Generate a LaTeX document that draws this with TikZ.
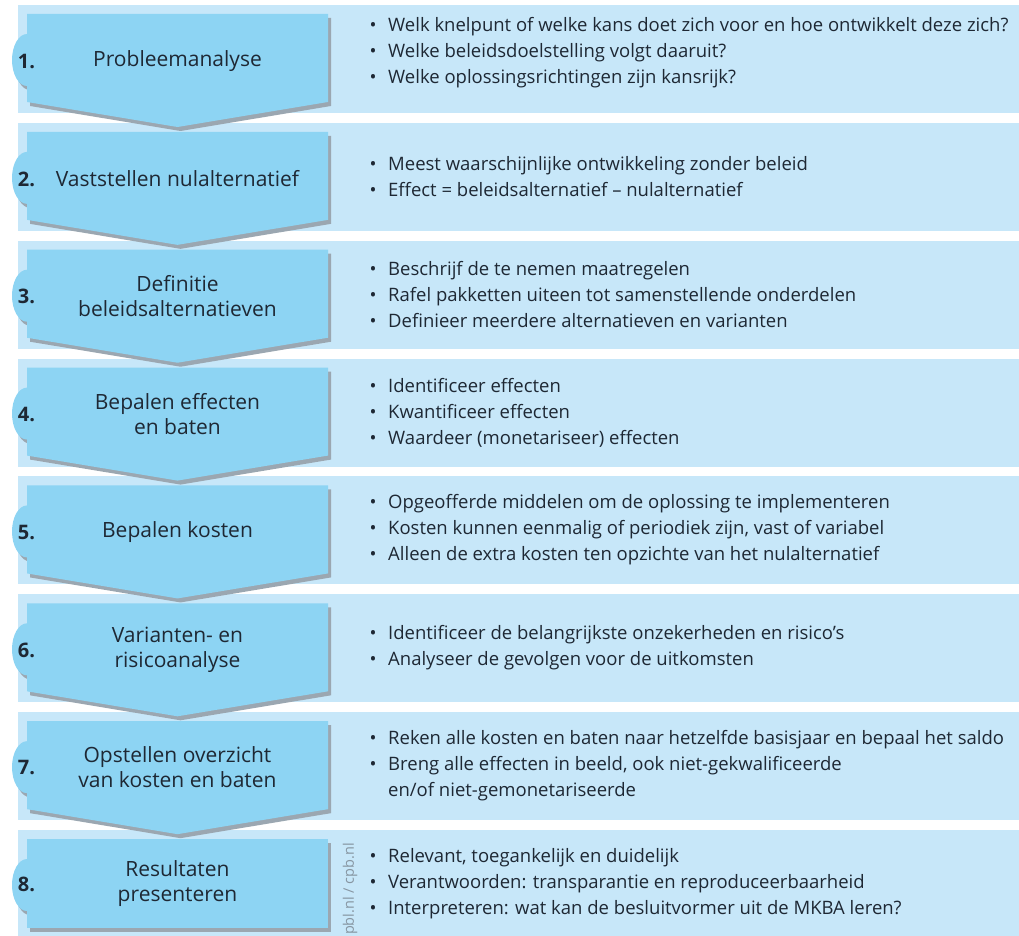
\documentclass[tikz,border=0pt]{standalone}
\usepackage{fontspec}
\setmainfont{Open Sans}

\definecolor{bandblue}{RGB}{199,231,249}
\definecolor{boxblue}{RGB}{141,212,243}
\definecolor{shadowgrey}{RGB}{155,167,177}
\definecolor{inktext}{RGB}{30,40,52}
\definecolor{creditgrey}{RGB}{135,150,162}

\newcommand{\bul}{\makebox[30pt][c]{\textbullet}}
\newcommand{\ind}{\hspace*{30pt}}

\begin{document}
\begin{tikzpicture} [x=1pt,y=-1pt,
			band/.style={fill=bandblue},
			arrowbox/.style={fill=boxblue},
			boxshadow/.style={fill=shadowgrey},
			stepnum/.style={font=\fontsize{20}{24}\selectfont\bfseries,text=inktext,inner sep=0pt},
			steplabel/.style={font=\fontsize{21}{25}\selectfont,text=inktext,align=center,inner sep=0pt},
			stepinfo/.style={font=\fontsize{18.5}{26}\selectfont,text=inktext,align=left,anchor=west,inner sep=0pt},
			credit/.style={font=\fontsize{14.5}{16}\selectfont,text=creditgrey,rotate=90,inner sep=0pt}]

		\useasboundingbox (0,0) rectangle (1019,936);

		\foreach \k in {1,...,8} {
			\pgfmathsetmacro{\t}{5+(\k-1)*117.86}
			\pgfmathsetmacro{\b}{min(\t+108,936)}
			\fill [band] (18,\t) rectangle (1019,\b);
		}

		\pgfmathsetmacro{\t}{5+7*117.86}
		\fill [boxshadow] (30,\t+13) rectangle (331,\t+102);
		\fill [boxshadow] (30,\t+59) ellipse [x radius=15pt, y radius=26pt];
		\fill [arrowbox] (27,\t+9) rectangle (328,\t+98);
		\fill [arrowbox] (27,\t+55) ellipse [x radius=15pt, y radius=26pt];

		\foreach \k in {7,...,1} {
			\pgfmathsetmacro{\t}{5+(\k-1)*117.86}
			\begin{scope}[shift={(3,4)}]
				\fill [boxshadow] (27,\t+9) -- (328,\t+9) -- (328,\t+97) -- (177.5,\t+122) -- (27,\t+97) -- cycle;
				\fill [boxshadow] (27,\t+55) ellipse [x radius=15pt, y radius=26pt];
			\end{scope}
			\fill [arrowbox] (27,\t+9) -- (328,\t+9) -- (328,\t+97) -- (177.5,\t+122) -- (27,\t+97) -- cycle;
			\fill [arrowbox] (27,\t+55) ellipse [x radius=15pt, y radius=26pt];
		}

		\node [stepnum] (num1) at (26.5,61) {1.};
		\node [stepnum] (num2) at (26.5,179) {2.};
		\node [stepnum] (num3) at (26.5,296) {3.};
		\node [stepnum] (num4) at (26.5,414) {4.};
		\node [stepnum] (num5) at (26.5,532) {5.};
		\node [stepnum] (num6) at (26.5,650) {6.};
		\node [stepnum] (num7) at (26.5,767) {7.};
		\node [stepnum] (num8) at (26.5,884) {8.};

		\node [steplabel] (step1) at (177.5,61) {Probleemanalyse};
		\node [steplabel] (step2) at (177.5,179) {Vaststellen nulalternatief};
		\node [steplabel] (step3) at (177.5,296) {Definitie\\beleidsalternatieven};
		\node [steplabel] (step4) at (177.5,414) {Bepalen effecten\\en baten};
		\node [steplabel] (step5) at (177.5,532) {Bepalen kosten};
		\node [steplabel] (step6) at (177.5,650) {Varianten- en\\risicoanalyse};
		\node [steplabel] (step7) at (177.5,767) {Opstellen overzicht\\van kosten en baten};
		\node [steplabel] (step8) at (177.5,884) {Resultaten\\presenteren};

		\node [stepinfo] (info1) at (358,53) {\bul Welk knelpunt of welke kans doet zich voor en hoe ontwikkelt deze zich?\\
			\bul Welke beleidsdoelstelling volgt daaruit?\\
			\bul Welke oplossingsrichtingen zijn kansrijk?};
		\node [stepinfo] (info2) at (358,177) {\bul Meest waarschijnlijke ontwikkeling zonder beleid\\
			\bul Effect = beleidsalternatief -- nulalternatief};
		\node [stepinfo] (info3) at (358,295) {\bul Beschrijf de te nemen maatregelen\\
			\bul Rafel pakketten uiteen tot samenstellende onderdelen\\
			\bul Definieer meerdere alternatieven en varianten};
		\node [stepinfo] (info4) at (358,413) {\bul Identificeer effecten\\
			\bul Kwantificeer effecten\\
			\bul Waardeer (monetariseer) effecten};
		\node [stepinfo] (info5) at (358,530) {\bul Opgeofferde middelen om de oplossing te implementeren\\
			\bul Kosten kunnen eenmalig of periodiek zijn, vast of variabel\\
			\bul Alleen de extra kosten ten opzichte van het nulalternatief};
		\node [stepinfo] (info6) at (358,648) {\bul Identificeer de belangrijkste onzekerheden en risico's\\
			\bul Analyseer de gevolgen voor de uitkomsten};
		\node [stepinfo] (info7) at (358,766) {\bul Reken alle kosten en baten naar hetzelfde basisjaar en bepaal het saldo\\
			\bul Breng alle effecten in beeld, ook niet-gekwalificeerde\\
			\ind en/of niet-gemonetariseerde};
		\node [stepinfo] (info8) at (358,884) {\bul Relevant, toegankelijk en duidelijk\\
			\bul Verantwoorden: transparantie en reproduceerbaarheid\\
			\bul Interpreteren: wat kan de besluitvormer uit de MKBA leren?};

		\node [credit] (source) at (350,889) {pbl.nl / cpb.nl};

		\end{tikzpicture}
\end{document}
